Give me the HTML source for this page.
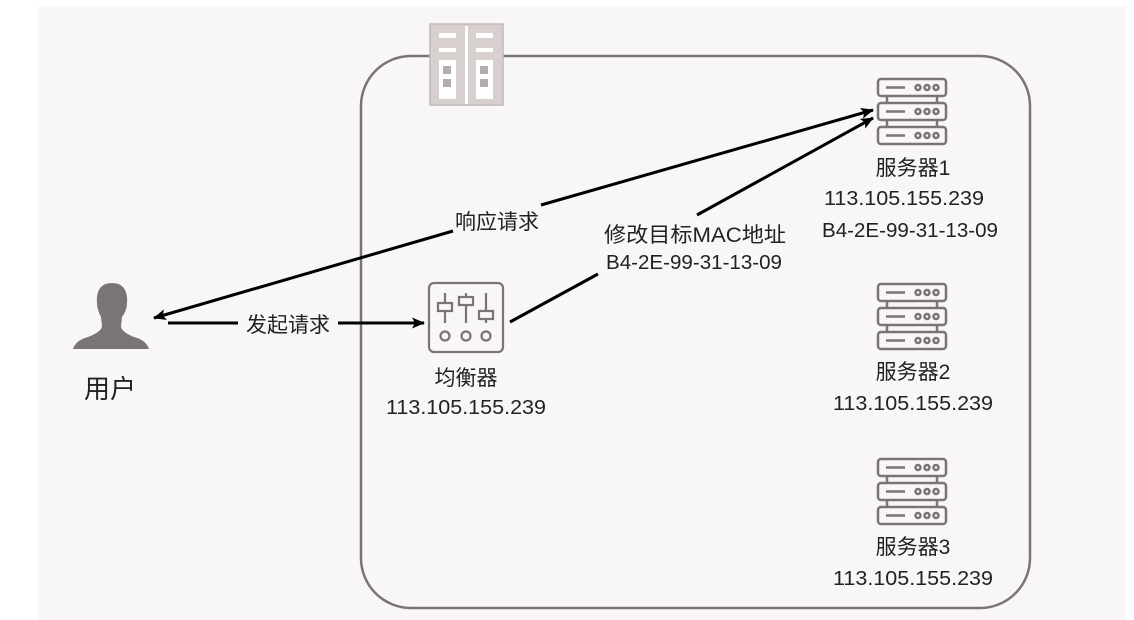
<!DOCTYPE html>
<html><head><meta charset="utf-8"><style>
html,body{margin:0;padding:0;background:#fff;}
svg{display:block;}
text{font-family:"Liberation Sans","Noto Sans CJK SC",sans-serif;font-size:20px;fill:#222;}
.c{font-size:21px;}
</style></head><body>
<svg width="1134" height="620" viewBox="0 0 1134 620" xmlns="http://www.w3.org/2000/svg">
<defs>
<marker id="ah" markerWidth="13" markerHeight="11" refX="12" refY="5.5" orient="auto" markerUnits="userSpaceOnUse">
<path d="M0,0 L13,5.5 L0,11 L3,5.5 Z" fill="#000"/>
</marker>
<g id="srv" fill="none" stroke="#7a7475" stroke-width="2.5">
<rect x="1" y="1" width="68" height="17" rx="3"/>
<rect x="1" y="25" width="68" height="17" rx="3"/>
<rect x="1" y="49" width="68" height="17" rx="3"/>
<line x1="10" y1="18" x2="10" y2="25"/><line x1="60" y1="18" x2="60" y2="25"/>
<line x1="10" y1="42" x2="10" y2="49"/><line x1="60" y1="42" x2="60" y2="49"/>
<line x1="9" y1="9.5" x2="28" y2="9.5"/><line x1="9" y1="33.5" x2="28" y2="33.5"/><line x1="9" y1="57.5" x2="28" y2="57.5"/>
<circle cx="41" cy="9.5" r="2.5"/><circle cx="50" cy="9.5" r="2.5"/><circle cx="59" cy="9.5" r="2.5"/>
<circle cx="41" cy="33.5" r="2.5"/><circle cx="50" cy="33.5" r="2.5"/><circle cx="59" cy="33.5" r="2.5"/>
<circle cx="41" cy="57.5" r="2.5"/><circle cx="50" cy="57.5" r="2.5"/><circle cx="59" cy="57.5" r="2.5"/>
</g>
</defs>
<rect x="38" y="6" width="1088" height="614" fill="#f8f6f7"/>
<rect x="361" y="56" width="669" height="552" rx="50" fill="none" stroke="#7a7475" stroke-width="2.5"/>
<!-- top icon -->
<rect x="430" y="24" width="73" height="81" fill="#d8cfcf" stroke="#c2b8b9" stroke-width="1.5"/>
<rect x="465" y="26" width="3" height="78" fill="#fff"/>
<rect x="439" y="33" width="17" height="5" fill="#fff"/><rect x="439" y="48" width="17" height="4" fill="#fff"/>
<rect x="476" y="33" width="17" height="5" fill="#fff"/><rect x="476" y="48" width="17" height="4" fill="#fff"/>
<rect x="439" y="60" width="17" height="39" fill="#fff"/><rect x="476" y="60" width="17" height="39" fill="#fff"/>
<rect x="443" y="66" width="8" height="8" fill="#b5acad"/><rect x="443" y="79" width="8" height="8" fill="#b5acad"/>
<rect x="480" y="66" width="8" height="8" fill="#b5acad"/><rect x="480" y="79" width="8" height="8" fill="#b5acad"/>
<!-- user -->
<path d="M112,283 C100,283 96,292 97,303 C97,308 99,313 101,317 L102,326 C102,330 96,334 88,337 C80,339 75,343 73,349 L149,349 C147,343 142,339 134,337 C126,334 121,330 121,326 L122,317 C125,313 127,308 127,303 C128,292 124,283 112,283 Z" fill="#7a7475"/>
<text x="110" y="398" text-anchor="middle" style="font-size:26px">用户</text>
<!-- balancer -->
<g fill="none" stroke="#7a7475" stroke-width="2.2">
<rect x="429" y="283" width="74" height="69" rx="5"/>
<line x1="445" y1="293" x2="445" y2="303"/><line x1="445" y1="311" x2="445" y2="323"/><rect x="438" y="303" width="14" height="8"/>
<line x1="466" y1="293" x2="466" y2="297"/><line x1="466" y1="305" x2="466" y2="323"/><rect x="459" y="297" width="14" height="8"/>
<line x1="486" y1="293" x2="486" y2="311"/><line x1="486" y1="319" x2="486" y2="323"/><rect x="479" y="311" width="14" height="8"/>
<circle cx="445" cy="336" r="4.5"/><circle cx="466" cy="336" r="4.5"/><circle cx="486" cy="336" r="4.5"/>
</g>
<text class="c" x="466" y="385" text-anchor="middle">均衡器</text>
<text x="466" y="414" text-anchor="middle" textLength="160" lengthAdjust="spacingAndGlyphs">113.105.155.239</text>
<!-- servers -->
<use href="#srv" x="877" y="78"/>
<use href="#srv" x="877" y="283"/>
<use href="#srv" x="877" y="458"/>
<text class="c" x="913" y="175" text-anchor="middle">服务器1</text>
<text x="904" y="205" text-anchor="middle" textLength="160" lengthAdjust="spacingAndGlyphs">113.105.155.239</text>
<text x="910" y="237" text-anchor="middle" textLength="176" lengthAdjust="spacingAndGlyphs">B4-2E-99-31-13-09</text>
<text class="c" x="913" y="379" text-anchor="middle">服务器2</text>
<text x="913" y="410" text-anchor="middle" textLength="160" lengthAdjust="spacingAndGlyphs">113.105.155.239</text>
<text class="c" x="913" y="554" text-anchor="middle">服务器3</text>
<text x="913" y="585" text-anchor="middle" textLength="160" lengthAdjust="spacingAndGlyphs">113.105.155.239</text>
<!-- connectors -->
<line x1="168" y1="323" x2="238" y2="323" stroke="#000" stroke-width="3"/>
<line x1="338" y1="323" x2="424" y2="323" stroke="#000" stroke-width="3" marker-end="url(#ah)"/>
<text class="c" x="288" y="332" text-anchor="middle">发起请求</text>
<line x1="453" y1="231" x2="154" y2="318" stroke="#000" stroke-width="3" marker-end="url(#ah)"/>
<line x1="541" y1="205" x2="873" y2="110" stroke="#000" stroke-width="3" marker-end="url(#ah)"/>
<text class="c" x="497" y="229" text-anchor="middle">响应请求</text>
<line x1="510" y1="322" x2="598" y2="274" stroke="#000" stroke-width="3"/>
<line x1="697" y1="215" x2="873" y2="118" stroke="#000" stroke-width="3" marker-end="url(#ah)"/>
<text x="695" y="242" text-anchor="middle" textLength="182" lengthAdjust="spacingAndGlyphs" style="font-size:21px">修改目标MAC地址</text>
<text x="694" y="269" text-anchor="middle" textLength="176" lengthAdjust="spacingAndGlyphs">B4-2E-99-31-13-09</text>
</svg>
</body></html>
